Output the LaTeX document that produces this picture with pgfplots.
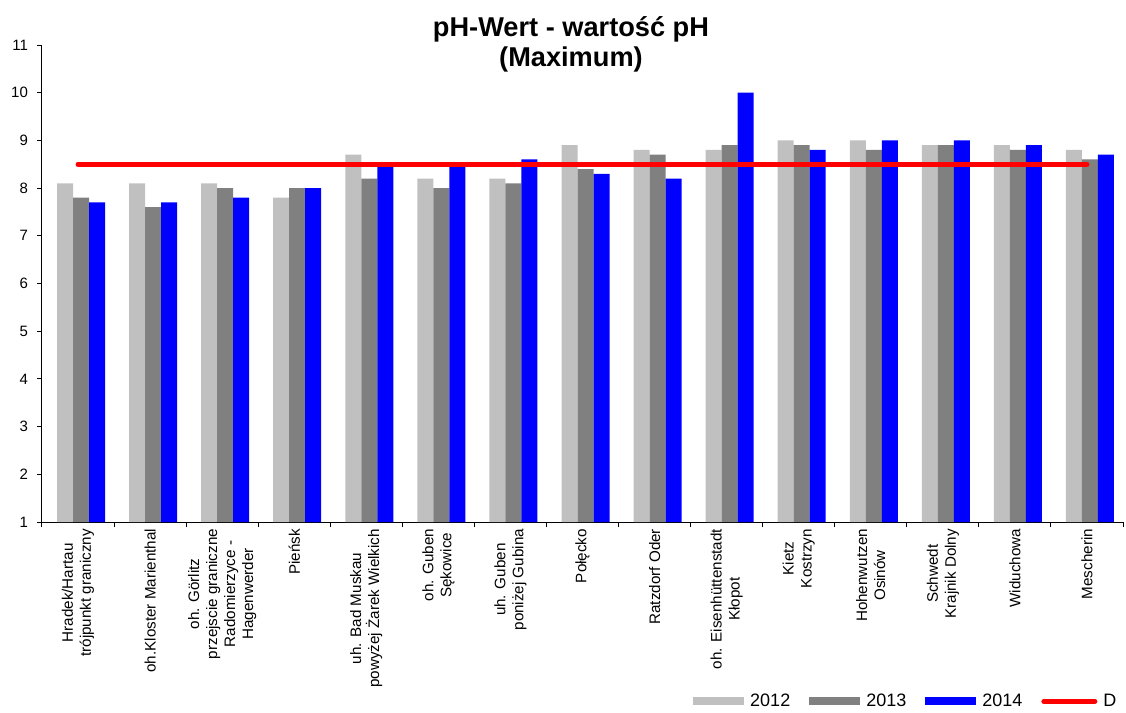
\documentclass[border=0pt]{standalone}
\usepackage{pgfplots}
\pgfplotsset{compat=1.18}
\usepackage{pgfplotstable}
\usepackage{fontspec}
\setmainfont{Liberation Sans}

\definecolor{c2012}{HTML}{C0C0C0}
\definecolor{c2013}{HTML}{808080}
\definecolor{c2014}{HTML}{0000FF}
\definecolor{cD}{HTML}{FF0000}

% pH maximum per station, 2012-2014
\pgfplotstableread{
x  y2012 y2013 y2014
1  8.1   7.8   7.7
2  8.1   7.6   7.7
3  8.1   8.0   7.8
4  7.8   8.0   8.0
5  8.7   8.2   8.5
6  8.2   8.0   8.5
7  8.2   8.1   8.6
8  8.9   8.4   8.3
9  8.8   8.7   8.2
10 8.8   8.9   10.0
11 9.0   8.9   8.8
12 9.0   8.8   9.0
13 8.9   8.9   9.0
14 8.9   8.8   8.9
15 8.8   8.6   8.7
}\phdata

\begin{document}
\begin{tikzpicture}
\useasboundingbox (-21pt,-95.5pt) rectangle (542pt,261pt);
\begin{axis}[
  at={(0pt,0pt)}, anchor=south west,
  scale only axis, width=540.5pt, height=238.5pt,
  ybar, bar width=8pt,
  xmin=0.5, xmax=15.5, ymin=1, ymax=11,
  ytick={1,...,11},
  xtick={0.5,1.5,...,15.5},
  x tick label as interval,
  xticklabels={
    {Hradek/Hartau\\trójpunkt graniczny},
    {oh.Kloster Marienthal},
    {oh. Görlitz\\przejscie graniczne\\Radomierzyce -\\Hagenwerder},
    {Pieńsk},
    {uh. Bad Muskau\\powyżej Żarek Wielkich},
    {oh. Guben\\Sękowice},
    {uh. Guben\\poniżej Gubina},
    {Połęcko},
    {Ratzdorf Oder},
    {oh. Eisenhüttenstadt\\Kłopot},
    {Kietz\\Kostrzyn},
    {Hohenwutzen\\Osinów},
    {Schwedt\\Krajnik Dolny},
    {Widuchowa},
    {Mescherin}},
  axis lines*=left,
  axis line style={black, line width=0.5pt},
  tick align=outside, major tick length=2.5pt,
  tick style={black, line width=0.5pt},
  /pgf/number format/assume math mode=true,
  yticklabel style={font=\fontsize{7.5}{8}\selectfont, xshift=-1pt},
  xticklabel style={rotate=90, anchor=east, align=center, inner sep=0.8pt,
    font=\fontsize{7.6}{9}\selectfont},
  legend columns=4,
  legend style={at={(0.997,-0.376)}, anchor=east, draw=none, fill=none,
    inner sep=0pt, font=\fontsize{9}{10}\selectfont,
    nodes={inner sep=1.5pt},
    /tikz/every odd column/.append style={column sep=1.5pt},
    /tikz/every even column/.append style={column sep=8pt}},
]
\addplot[fill=c2012, draw=none, bar shift=-6.5pt,
  legend image code/.code={\fill[c2012] (0pt,-2pt) rectangle (25.5pt,2pt);}]
  table[x=x, y=y2012] {\phdata};
\addlegendentry{2012}
\addplot[fill=c2013, draw=none, bar shift=1.5pt,
  legend image code/.code={\fill[c2013] (0pt,-2pt) rectangle (25.5pt,2pt);}]
  table[x=x, y=y2013] {\phdata};
\addlegendentry{2013}
\addplot[fill=c2014, draw=none, bar shift=9.5pt,
  legend image code/.code={\fill[c2014] (0pt,-2pt) rectangle (25.5pt,2pt);}]
  table[x=x, y=y2014] {\phdata};
\addlegendentry{2014}
% limit value D
\addplot[sharp plot, cD, line width=2.5pt, line cap=round, mark=none,
  legend image code/.code={\draw[cD, line width=2.5pt, line cap=round] (0pt,0pt) -- (25.5pt,0pt);}]
  coordinates {(1,8.5) (15,8.5)};
\addlegendentry{D}
\end{axis}
\node[anchor=base, font=\fontsize{13.6}{15}\selectfont\bfseries] at (264.5pt,242.5pt) {pH-Wert - wartość pH};
\node[anchor=base, font=\fontsize{13.6}{15}\selectfont\bfseries] at (264.5pt,227.5pt) {(Maximum)};
\end{tikzpicture}
\end{document}
